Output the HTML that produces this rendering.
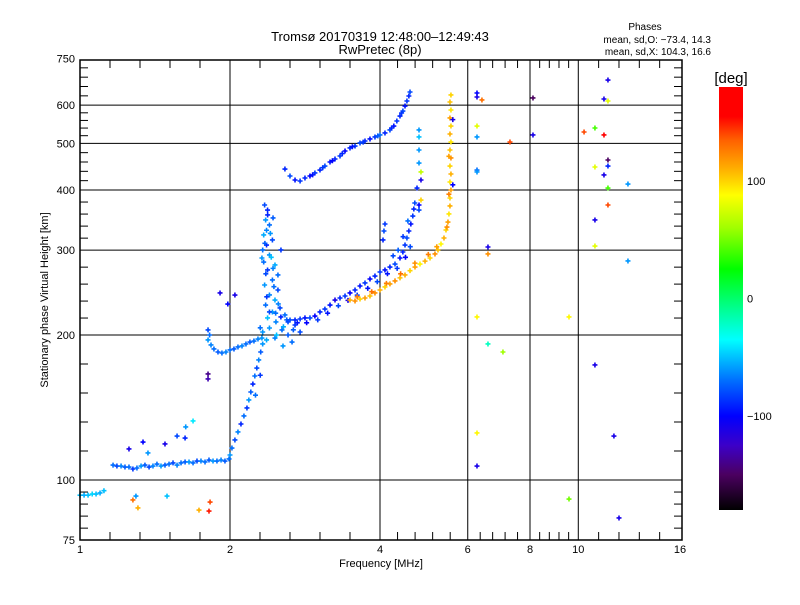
<!DOCTYPE html>
<html><head><meta charset="utf-8"><style>
body{margin:0;background:#fff;}
svg text{font-family:"Liberation Sans",sans-serif;fill:#000;}
</style></head><body>
<svg id="chart" width="800" height="600" viewBox="0 0 800 600" xmlns="http://www.w3.org/2000/svg">
<defs>
<linearGradient id="cb" x1="0" y1="1" x2="0" y2="0"></linearGradient>
</defs>
<rect width="800" height="600" fill="#fff"/>
<text x="380" y="41" font-size="13" text-anchor="middle">Tromsø 20170319 12:48:00–12:49:43</text>
<text x="380" y="54" font-size="13" text-anchor="middle">RwPretec (8p)</text>
<text x="645" y="30" font-size="10" text-anchor="middle">Phases</text>
<text x="711" y="43" font-size="10" text-anchor="end">mean, sd,O: −73.4, 14.3</text>
<text x="711" y="55" font-size="10" text-anchor="end">mean, sd,X: 104.3, 16.6</text>
<g id="grid"></g>
<g id="marks"></g>
<g id="axes"></g>
<text x="381" y="567" font-size="11" text-anchor="middle">Frequency [MHz]</text>
<text x="48" y="300" font-size="11" text-anchor="middle" transform="rotate(-90 48 300)">Stationary phase Virtual Height [km]</text>
<text x="731" y="83" font-size="15" text-anchor="middle">[deg]</text>
<g id="cbar"></g>
</svg>
<script>
const xTickVals=[1,2,4,6,8,10,16];
const xTickLabels=["1","2","4","6","8","10","16"];
const yTickVals=[75,100,200,300,400,500,600,750];
const yTickLabels=["75","100","200","300","400","500","600","750"];
const cbTickVals=[100,0,-100];
const cbTickLabels=["100","0","−100"];
const cbRange=[-180,180];
// [frequency MHz, virtual height km, phase deg]
const traceE0=[[1.0,93,-50],[1.019,93,-55],[1.038,93,-50],[1.058,93.5,-45],[1.077,93.5,-50],[1.097,94,-55],[1.117,95,-50]];
const traceE1=[[1.165,107.4,-70],[1.186,106.9,-80],[1.209,106.9,-65],[1.231,106.4,-75],[1.254,106.4,-70],[1.277,105.4,-85],[1.301,105.9,-70],[1.326,106.9,-60],[1.35,107.4,-75],[1.376,106.4,-80],[1.401,106.9,-65],[1.427,107.9,-70],[1.454,106.9,-60],[1.481,107.4,-75],[1.509,107.9,-70],[1.537,108.5,-80],[1.566,107.4,-65],[1.595,108.5,-70],[1.625,109,-75],[1.655,109,-60],[1.686,108.5,-70],[1.717,109.5,-80],[1.749,109.5,-65],[1.782,109,-70],[1.815,110,-75],[1.849,109.5,-60],[1.883,109.5,-70],[1.919,110,-65],[1.954,109.5,-75],[1.991,110.6,-70]];
const traceRise=[[2.0,112.7,-60],[2.018,116.5,-70],[2.046,121.1,-80],[2.075,125.8,-65],[2.104,130.7,-90],[2.133,135.8,-70],[2.163,141.1,-85],[2.182,146.6,-60],[2.202,152.3,-75],[2.223,158.2,-90],[2.243,164.4,-70],[2.264,170.8,-80],[2.284,177.5,-65],[2.305,184.4,-75],[2.326,191.6,-60],[2.25,150,-70],[2.3,165,-85]];
const traceF1=[[1.807,195.3,-60],[1.807,204.9,-80],[1.82,200,-70],[1.832,190.7,-65],[1.857,187.1,-70],[1.892,184.4,-75],[1.927,183.5,-70],[1.963,184.4,-65],[2.0,186.2,-70],[2.037,187.1,-75],[2.075,188.9,-70],[2.114,189.8,-65],[2.153,191.6,-70],[2.193,193.4,-75],[2.234,194.3,-70],[2.276,196.2,-65],[2.318,197.1,-60]];
const traceCusp=[[2.347,372.3,-80],[2.379,363.5,-90],[2.358,346.6,-60],[2.4,338.4,-70],[2.337,322.6,-55],[2.433,315,-80],[2.368,307.5,-90],[2.4,293.2,-60],[2.337,283.5,-70],[2.462,279.5,-55],[2.379,272.9,-85],[2.433,260.2,-70],[2.347,254,-60],[2.496,248,-80],[2.4,242.2,-65],[2.462,236.4,-55],[2.358,230.8,-70],[2.52,227.6,-80],[2.433,223.3,-60],[2.578,220.1,-70],[2.379,217,-50],[2.473,212.9,-65],[2.639,214.9,-80],[2.4,206.8,-60],[2.543,204.9,-70],[2.701,209.8,-85],[2.326,202.9,-60],[2.615,200,-75],[2.765,202.9,-80],[2.462,197.1,-65],[2.368,195.3,-55],[2.664,193.4,-70],[2.555,189.8,-60],[2.4,223.3,-80],[2.496,266.5,-70],[2.318,289,-60],[2.531,300.3,-85],[2.326,300.3,-70],[2.368,330,-65],[2.44,350,-75],[2.42,290,-50],[2.5,232,-65],[2.56,208,-55],[2.6,215,-75],[2.45,252,-70],[2.36,268,-80],[2.48,200,-50],[2.3,207,-70],[2.38,355,-90],[2.41,325,-60],[2.35,310,-75],[2.44,275,-65],[2.37,240,-85],[2.47,222,-70],[2.53,218,-90],[2.68,205,-75],[2.73,212,-95]];
const traceF2o=[[2.615,212.9,-80],[2.701,214.9,-90],[2.765,215.9,-85],[2.828,217,-95],[2.894,217,-80],[2.961,219,-100],[3.031,223.3,-90],[3.101,226.4,-85],[3.175,230.8,-95],[3.249,236.4,-110],[3.325,238.7,-90],[3.403,241,-85],[3.482,244.5,-100],[3.564,248,-90],[3.647,252.8,-95],[3.732,256.5,-85],[3.819,261.4,-100],[3.908,265.1,-90],[4.0,270.3,-85],[4.093,272.9,-95],[4.188,276.8,-90],[4.287,280.8,-80],[4.387,289,-95],[4.446,297.4,-90],[4.49,307.5,-85],[4.53,318,-80],[4.571,328.8,-90],[4.613,340,-95],[4.655,353.2,-85],[4.677,365.2,-90],[4.698,375.9,-80],[4.056,315,-90],[4.074,328.8,-80],[4.093,340,-85],[4.35,300,-75],[4.45,320,-85],[4.55,345,-70],[4.25,292,-80],[2.85,212,-100],[3.0,215,-85],[3.14,222,-95],[3.3,230,-80],[3.45,236,-110],[3.6,242,-85],[3.78,250,-95],[3.95,258,-80],[4.14,268,-95],[4.33,275,-85],[4.5,290,-100],[4.6,305,-80]];
const traceF2x=[[3.482,236.4,110],[3.564,235.3,120],[3.647,237.5,100],[3.732,238.7,115],[3.819,241,105],[3.908,244.5,120],[4.0,248,110],[4.093,251.6,100],[4.188,255.3,115],[4.287,259,120],[4.387,262.8,105],[4.49,266.5,110],[4.595,272,100],[4.702,276.8,115],[4.812,280.8,90],[4.925,284.7,110],[5.04,289,100],[5.157,294.6,120],[5.229,300.3,105],[5.302,309,90],[5.376,318,110],[5.426,330.4,100],[5.476,343.2,115],[5.501,356.7,95],[5.527,370.6,110],[5.527,385,100],[5.552,400,115],[5.527,415.6,95],[5.552,431.8,110],[5.527,448.6,100],[5.552,466.2,120],[5.527,484.3,105],[5.552,503.1,95],[5.527,522.8,110],[5.552,543.1,100],[5.527,564.4,115],[5.552,586.3,95],[5.527,609.2,105],[5.552,630,100],[3.6,240,125],[3.85,246,130],[4.12,256,125],[4.4,268,130],[4.7,282,120],[5.0,294,125],[5.2,305,115],[5.45,335,120],[5.5,392,125],[5.5,470,115]];
const trace2F=[[2.578,442.2,-90],[2.639,427.7,-80],[2.701,419.6,-95],[2.765,417.6,-85],[2.828,423.6,-90],[2.894,427.7,-100],[2.961,433.9,-85],[3.031,440.1,-90],[3.101,448.6,-80],[3.175,457.3,-95],[3.249,463.9,-90],[3.325,470.6,-85],[3.403,482,-100],[3.482,489,-90],[3.564,493.6,-85],[3.647,500.8,-80],[3.732,505.6,-90],[3.819,510.5,-95],[3.908,515.4,-85],[4.0,520.4,-70],[4.093,525.4,-90],[4.188,533,-80],[4.264,543.1,-95],[4.324,556.3,-85],[4.387,569.7,-90],[4.446,583.5,-80],[4.49,597.6,-95],[4.53,612.1,-85],[4.571,626.9,-90],[4.595,639,-80],[2.93,430,-95],[3.07,445,-85],[3.21,460,-100],[3.36,476,-90],[3.52,492,-95],[3.7,503,-85],[3.96,518,-75],[4.22,538,-90],[4.42,578,-85]];
const scatter=[[6.262,636,-100],[6.262,623.9,-110],[6.407,615.1,130],[8.111,621,-150],[11.47,676.7,-110],[11.26,618,-110],[11.47,612.1,80],[6.262,543.1,80],[7.293,503.1,140],[8.111,520.4,-110],[10.27,527.8,140],[10.8,538,40],[11.26,520.4,160],[11.47,461.7,-150],[11.47,448.6,-90],[10.8,446.5,80],[11.26,429.8,-110],[12.58,411.6,-60],[11.47,403.8,40],[11.47,372.3,140],[10.8,346.6,-110],[10.8,306,80],[12.58,284.9,-60],[6.262,515.4,-60],[6.262,440.1,-70],[6.262,436,-60],[6.588,304.6,-110],[6.588,294.6,120],[6.262,218,90],[9.58,218,90],[6.588,191.6,-20],[7.06,184.4,60],[10.8,173.3,-110],[6.262,125.2,90],[6.262,106.9,-110],[9.58,91.3,50],[12.07,83.4,-110],[11.79,123.4,-110],[4.79,533,-60],[4.79,515.4,-50],[4.79,484.3,-60],[4.79,455,-60],[4.834,436,70],[4.834,419.6,-110],[4.746,403.8,-90],[4.834,381.3,100],[4.79,372.3,-100],[4.79,363.5,-80],[1.277,90.9,130],[1.307,87.5,110],[1.295,92.6,-60],[1.495,92.6,-50],[1.733,86.6,110],[1.815,86.2,150],[1.824,90,140],[1.254,116,-110],[1.338,119.9,-100],[1.369,113.8,-60],[1.481,118.8,-110],[1.566,123.4,-80],[1.625,122.2,-90],[1.686,132.6,-40],[1.63,128.9,-60],[1.807,166,-140],[1.807,162.1,-130],[1.91,244.5,-110],[2.046,242.1,-110],[1.98,231.9,-100],[5.6,410,-100],[5.6,560,-110]];
const traces=[traceE0,traceE1,traceRise,traceF1,traceCusp,traceF2o,traceF2x,trace2F,scatter];
const traceNames=["e-layer-low","e-layer-trace","f1-rise","f1-hump","f1-cusp","f2-o-trace","f2-x-trace","multihop-trace","scattered-echoes"];

const X0=80,X1=682,Y0=60,Y1=540;
function xS(f){return 80+150*Math.log2(f);}
function yS(h){return 480-145*Math.log2(h/100);}
const stops=[[-180,[0,0,0]],[-150,[75,0,96]],[-125,[60,0,200]],[-100,[0,0,255]],[-70,[0,110,255]],[-35,[0,255,255]],[-10,[0,255,150]],[25,[0,255,0]],[60,[160,255,0]],[88,[255,255,0]],[110,[255,176,0]],[135,[255,96,0]],[155,[255,0,0]],[180,[255,0,0]]];
function cmap(p){
  p=Math.max(-180,Math.min(180,p));
  for(let i=0;i<stops.length-1;i++){
    const a=stops[i],b=stops[i+1];
    if(p<=b[0]){const t=(p-a[0])/(b[0]-a[0]);
      const c=a[1].map((v,k)=>Math.round(v+(b[1][k]-v)*t));
      return `rgb(${c[0]},${c[1]},${c[2]})`;}
  }
  return "rgb(255,0,0)";
}
const NS="http://www.w3.org/2000/svg";
function mk(tag,attrs,parent){const e=document.createElementNS(NS,tag);for(const k in attrs)e.setAttribute(k,attrs[k]);parent.appendChild(e);return e;}

const grid=document.getElementById('grid');
xTickVals.forEach(v=>{if(v>1&&v<16){const l=mk('line',{x1:xS(v),x2:xS(v),y1:Y0,y2:Y1,stroke:'#000','stroke-width':1},grid);

}});
yTickVals.forEach(v=>{if(v>75&&v<750){const l=mk('line',{x1:X0,x2:X1,y1:yS(v),y2:yS(v),stroke:'#000','stroke-width':1},grid);

}});

const marks=document.getElementById('marks');
traces.forEach((tr,ti)=>{
  const g=mk('g',{},marks);
  
  
  tr.forEach(p=>{
    const x=xS(p[0]),y=yS(p[1]),c=cmap(p[2]);
    const m=mk('path',{d:`M${x-2.5},${y}H${x+2.5}M${x},${y-2.5}V${y+2.5}`,stroke:c,'stroke-width':1.6,fill:'none'},g);
    
    
  });
});

const axes=document.getElementById('axes');
mk('rect',{x:X0,y:Y0,width:X1-X0,height:Y1-Y0,fill:'none',stroke:'#000','stroke-width':1.5},axes);
for(let i=0;i<xTickVals.length-1;i++){
  const a=xS(xTickVals[i]),b=xS(xTickVals[i+1]);
  for(let k=1;k<5;k++){const x=a+(b-a)*k/5;
    mk('line',{x1:x,x2:x,y1:Y1,y2:Y1-8,stroke:'#000'},axes);
    mk('line',{x1:x,x2:x,y1:Y0,y2:Y0+8,stroke:'#000'},axes);}
}
for(let i=0;i<yTickVals.length-1;i++){
  const a=yS(yTickVals[i]),b=yS(yTickVals[i+1]);
  for(let k=1;k<5;k++){const y=a+(b-a)*k/5;
    mk('line',{x1:X0,x2:X0+8,y1:y,y2:y,stroke:'#000'},axes);
    mk('line',{x1:X1,x2:X1-8,y1:y,y2:y,stroke:'#000'},axes);}
}
xTickVals.forEach((v,i)=>{const t=mk('text',{x:xS(v),y:553,'font-size':11,'text-anchor':'middle'},axes);t.textContent=xTickLabels[i];

});
yTickVals.forEach((v,i)=>{const t=mk('text',{x:75,y:yS(v)+4,'font-size':11,'text-anchor':'end'},axes);t.textContent=yTickLabels[i];

});

const grad=document.getElementById('cb');
stops.forEach(s=>{mk('stop',{offset:((s[0]-cbRange[0])/(cbRange[1]-cbRange[0])*100)+'%','stop-color':`rgb(${s[1].join(',')})`},grad);});
const cbar=document.getElementById('cbar');
const CB_T=87,CB_B=510;
function cbY(v){return CB_B-(v-cbRange[0])/(cbRange[1]-cbRange[0])*(CB_B-CB_T);}
const cr=mk('rect',{x:719,y:CB_T,width:24,height:CB_B-CB_T,fill:'url(#cb)'},cbar);


cbTickVals.forEach((v,i)=>{const t=mk('text',{x:747,y:cbY(v)+4,'font-size':11},cbar);t.textContent=cbTickLabels[i];

});
</script>
</body></html>
